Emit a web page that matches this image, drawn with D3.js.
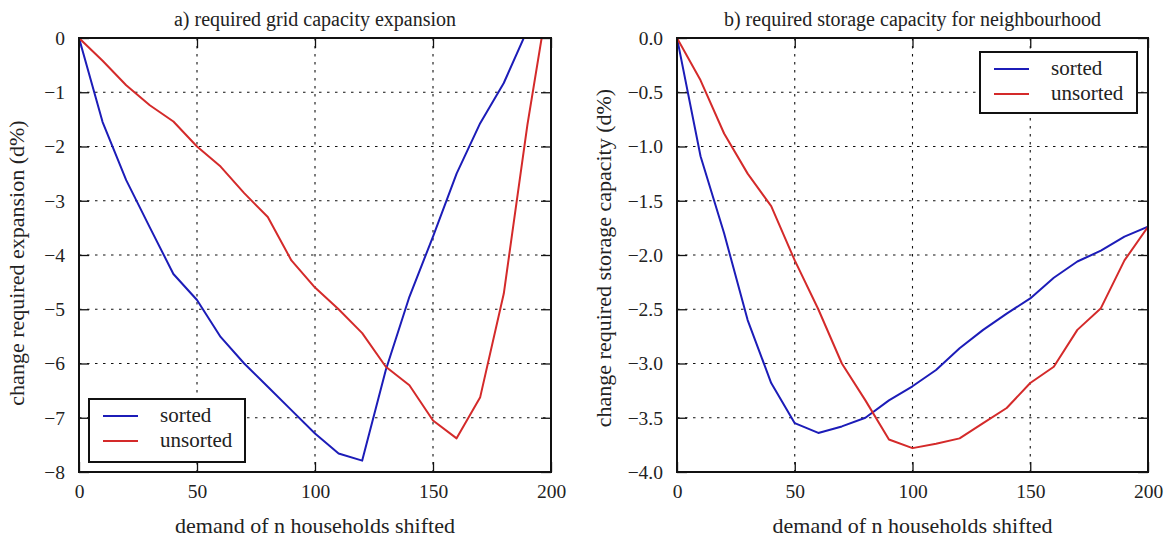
<!DOCTYPE html>
<html>
<head>
<meta charset="utf-8">
<script src="https://cdn.jsdelivr.net/npm/d3@7"></script>
<style>
  body { margin: 0; background: #fff; }
</style>
</head>
<body>
<div id="chart"></div>
<script>
// x positions (households shifted)
const shifted = [0, 10, 20, 30, 40, 50, 60, 70, 80, 90, 100, 110, 120, 130, 140, 150, 160, 170, 180, 190, 200];

// a) grid capacity expansion change (d%)
const gridSorted = [0, -1.55, -2.62, -3.49, -4.35, -4.83, -5.51, -6.0, -6.43, -6.86, -7.29, -7.66, -7.79, -6.12, -4.77, -3.66, -2.5, -1.57, -0.83, 0.15, 1.1];
const gridUnsorted = [0, -0.42, -0.87, -1.24, -1.54, -2.0, -2.37, -2.86, -3.3, -4.1, -4.6, -5.0, -5.44, -6.06, -6.4, -7.05, -7.38, -6.62, -4.71, -1.6, 1.05];

// b) storage capacity change (d%)
const storSorted = [0, -1.09, -1.8, -2.6, -3.18, -3.55, -3.64, -3.58, -3.5, -3.34, -3.21, -3.06, -2.86, -2.69, -2.54, -2.4, -2.21, -2.06, -1.96, -1.83, -1.74];
const storUnsorted = [0, -0.39, -0.88, -1.25, -1.55, -2.05, -2.5, -3.0, -3.34, -3.7, -3.78, -3.74, -3.69, -3.55, -3.41, -3.18, -3.03, -2.69, -2.49, -2.05, -1.74];

const seriesNames = ["sorted", "unsorted"];
const seriesColors = ["#1c1cb8", "#d42a2a"];

const xTicks = [0, 50, 100, 150, 200];
const gridYTicks = [0, -1, -2, -3, -4, -5, -6, -7, -8];
const storYTicks = [0, -0.5, -1, -1.5, -2, -2.5, -3, -3.5, -4];

const FONT = "'Liberation Serif', 'Times New Roman', 'DejaVu Serif', serif";

let svg = d3.select("#chart").append("svg")
  .attr("width", 1168)
  .attr("height", 541);

function addText(sel, size) {
  return sel.append("text")
    .style("font-family", FONT)
    .style("font-size", size + "px")
    .style("fill", "#222");
}

function drawPanel(opts) {
  let x = d3.scaleLinear().domain([0, 200]).range([opts.left, opts.right]);
  let y = d3.scaleLinear().domain(opts.yDomain).range([472, 38]);
  let g = svg.append("g");

  g.append("clipPath").attr("id", opts.id + "clip")
    .append("rect")
    .attr("x", opts.left).attr("y", 38)
    .attr("width", opts.right - opts.left).attr("height", 472 - 38);

  // dotted grid
  g.selectAll(".vgrid").data(xTicks.slice(1, -1)).join("line")
    .attr("x1", d => x(d)).attr("x2", d => x(d))
    .attr("y1", 38).attr("y2", 472)
    .attr("stroke", "#111").attr("stroke-width", 1.1)
    .attr("stroke-dasharray", "2.5,5.5");
  g.selectAll(".hgrid").data(opts.yTicks.slice(1, -1)).join("line")
    .attr("x1", opts.left).attr("x2", opts.right)
    .attr("y1", d => y(d)).attr("y2", d => y(d))
    .attr("stroke", "#111").attr("stroke-width", 1.1)
    .attr("stroke-dasharray", "2.5,5.5");

  // axes, ticks pointing inward on all sides
  let bottom = g.append("g").attr("transform", "translate(0,472)")
    .call(d3.axisBottom(x).tickValues(xTicks).tickSizeInner(-10).tickSizeOuter(0).tickPadding(12).tickFormat(d3.format("d")));
  let top = g.append("g").attr("transform", "translate(0,38)")
    .call(d3.axisTop(x).tickValues(xTicks).tickSizeInner(-10).tickSizeOuter(0).tickFormat(""));
  let left = g.append("g").attr("transform", "translate(" + opts.left + ",0)")
    .call(d3.axisLeft(y).tickValues(opts.yTicks).tickSizeInner(-10).tickSizeOuter(0).tickPadding(14).tickFormat(opts.fmt));
  let right = g.append("g").attr("transform", "translate(" + opts.right + ",0)")
    .call(d3.axisRight(y).tickValues(opts.yTicks).tickSizeInner(-10).tickSizeOuter(0).tickFormat(""));

  [bottom, top, left, right].forEach(a => {
    a.attr("font-family", null).attr("font-size", null);
    a.select(".domain").remove();
    a.selectAll(".tick line").attr("stroke", "#111").attr("stroke-width", 1.3);
    a.selectAll("text")
      .style("font-family", FONT)
      .style("font-size", "19.5px")
      .style("fill", "#222");
  });

  // lines
  let line = d3.line().x((d, i) => x(shifted[i])).y(d => y(d));
  opts.series.forEach((vals, k) => {
    g.append("path")
      .attr("clip-path", "url(#" + opts.id + "clip)")
      .attr("d", line(vals))
      .attr("fill", "none")
      .attr("stroke", seriesColors[k])
      .attr("stroke-width", 2)
      .attr("stroke-linejoin", "round");
  });

  // frame
  g.append("rect")
    .attr("x", opts.left).attr("y", 38)
    .attr("width", opts.right - opts.left).attr("height", 472 - 38)
    .attr("fill", "none").attr("stroke", "#111").attr("stroke-width", 2);

  // titles
  addText(g, 20)
    .attr("x", (opts.left + opts.right) / 2).attr("y", 26)
    .attr("text-anchor", "middle")
    .text(opts.title);
  addText(g, 22)
    .attr("x", (opts.left + opts.right) / 2).attr("y", 533)
    .attr("text-anchor", "middle")
    .text("demand of n households shifted");
  addText(g, 22)
    .attr("transform", "translate(" + opts.yLabelX + "," + opts.yLabelY + ") rotate(-90)")
    .attr("text-anchor", "middle")
    .text(opts.yLabel);

  // legend
  let lg = opts.legend;
  g.append("rect")
    .attr("x", lg.x).attr("y", lg.y).attr("width", lg.w).attr("height", lg.h)
    .attr("fill", "#fff").attr("stroke", "#111").attr("stroke-width", 2);
  seriesNames.forEach((name, k) => {
    let ry = lg.y + 17 + k * 25;
    g.append("line")
      .attr("x1", lg.x + 14).attr("x2", lg.x + 49)
      .attr("y1", ry).attr("y2", ry)
      .attr("stroke", seriesColors[k]).attr("stroke-width", 2);
    addText(g, 21)
      .attr("x", lg.x + 71).attr("y", ry + 6)
      .text(name);
  });
}

drawPanel({
  id: "a",
  left: 79, right: 551,
  yDomain: [-8, 0],
  yTicks: gridYTicks,
  fmt: d => d === 0 ? "0" : "\u2212" + Math.abs(d),
  series: [gridSorted, gridUnsorted],
  title: "a) required grid capacity expansion",
  yLabel: "change required expansion (d%)",
  yLabelX: 24, yLabelY: 263,
  legend: { x: 89, y: 399, w: 156, h: 63 }
});

drawPanel({
  id: "b",
  left: 677, right: 1148,
  yDomain: [-4, 0],
  yTicks: storYTicks,
  fmt: d => d === 0 ? "0.0" : "\u2212" + Math.abs(d).toFixed(1),
  series: [storSorted, storUnsorted],
  title: "b) required storage capacity for neighbourhood",
  yLabel: "change required storage capacity (d%)",
  yLabelX: 611, yLabelY: 258,
  legend: { x: 980, y: 52, w: 157, h: 61 }
});
</script>
</body>
</html>
